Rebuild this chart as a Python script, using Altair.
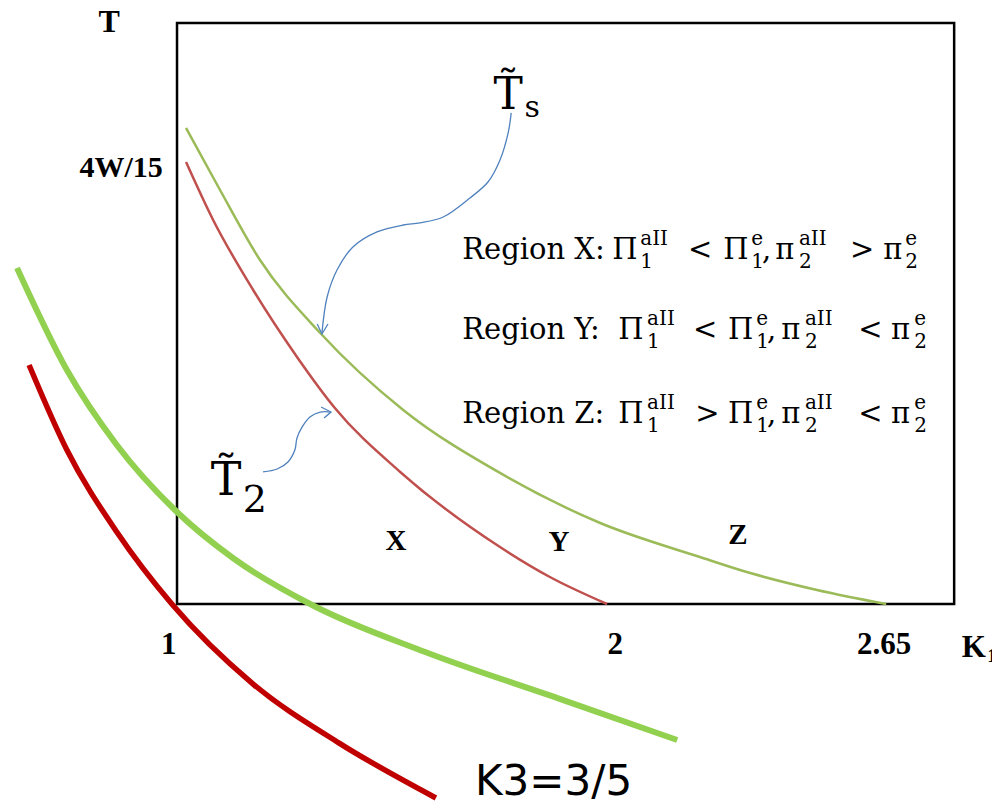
import altair as alt
import pandas as pd

# ---------------- data (K1 on x, T on y; T measured in units of W/15) ----------------
X_DOMAIN = [0.607, 2.895]
Y_DOMAIN = [-1.813, 5.430]

# inner curves
ts_k1 = [1.021, 1.100, 1.193, 1.333, 1.526, 1.751, 1.984, 2.216, 2.333, 2.488, 2.649]
ts_t = [4.337, 3.772, 3.134, 2.469, 1.768, 1.194, 0.738, 0.428, 0.282, 0.128, 0.0]

t2_k1 = [1.021, 1.084, 1.177, 1.279, 1.367, 1.519, 1.751, 1.867, 2.000]
t2_t = [4.027, 3.499, 2.861, 2.251, 1.786, 1.203, 0.519, 0.246, 0.0]

# K3 = 3/5 curves
k3_green_k1 = [0.628, 0.744, 0.860, 1.000, 1.130, 1.314, 1.577, 1.898, 2.163]
k3_green_t = [3.062, 2.132, 1.449, 0.838, 0.419, -0.009, -0.437, -0.875, -1.239]

k3_red_k1 = [0.656, 0.744, 0.860, 0.988, 1.177, 1.377, 1.602]
k3_red_t = [2.178, 1.403, 0.656, 0.0, -0.729, -1.267, -1.767]

# frame
box_k1 = [1.0, 2.807]
box_t = [0.0, 5.294]

# arrows
arrow_s_k1 = [1.777, 1.770, 1.751, 1.723, 1.681, 1.619, 1.565, 1.526, 1.465, 1.409, 1.372, 1.349, 1.337]
arrow_s_t = [4.474, 4.292, 4.046, 3.845, 3.699, 3.526, 3.472, 3.453, 3.390, 3.253, 3.043, 2.797, 2.469]
head_s_k1 = [1.326, 1.337, 1.351]
head_s_t = [2.551, 2.460, 2.551]

arrow_2_k1 = [1.200, 1.233, 1.258, 1.274, 1.279, 1.291, 1.309, 1.333, 1.358]
arrow_2_t = [1.203, 1.230, 1.294, 1.403, 1.513, 1.613, 1.704, 1.749, 1.749]
head_2_k1 = [1.335, 1.358, 1.342]
head_2_t = [1.795, 1.749, 1.695]

# tick labels
x_tick_text = ["1", "2", "2.65"]
x_tick_k1 = [0.981, 2.019, 2.644]
x_tick_t = -0.374
y_tick_text = ["4W/15"]
y_tick_t = [3.973]
y_tick_k1 = 0.967

region_labels = ["X", "Y", "Z"]
region_label_k1 = [1.509, 1.888, 2.304]
region_label_t = [0.574, 0.565, 0.633]

# region description lines: base tokens, superscripts, subscripts
line_base_t = [3.144, 2.415, 1.649]
SUP_OFF = 0.128
SUB_OFF = -0.082
line_base_tokens = [
    [("Region X:", 1.663), ("Π", 2.012), ("<", 2.188), ("Π", 2.270), (",", 2.360), ("π", 2.391), (">", 2.565), ("π", 2.642)],
    [("Region Y:", 1.663), ("Π", 2.026), ("<", 2.200), ("Π", 2.281), (",", 2.372), ("π", 2.405), ("<", 2.584), ("π", 2.660)],
    [("Region Z:", 1.663), ("Π", 2.026), (">", 2.205), ("Π", 2.281), (",", 2.372), ("π", 2.405), ("<", 2.584), ("π", 2.660)],
]
line_script_k1 = [
    [2.077, 2.335, 2.446, 2.693],
    [2.093, 2.347, 2.460, 2.714],
    [2.093, 2.347, 2.460, 2.714],
]
sup_tokens = ["aII", "e", "aII", "e"]
sub_tokens = ["1", "1", "2", "2"]

# ---------------- build tables ----------------
def curve_df(k, t):
    return pd.DataFrame({"K1": k, "T": t, "i": list(range(len(k)))})

X = alt.X("K1:Q", scale=alt.Scale(domain=X_DOMAIN, nice=False, zero=False), axis=None)
Y = alt.Y("T:Q", scale=alt.Scale(domain=Y_DOMAIN, nice=False, zero=False), axis=None)

box = alt.Chart(pd.DataFrame({"K1": [box_k1[0]], "K1b": [box_k1[1]], "T": [box_t[0]], "Tb": [box_t[1]]})).mark_rect(
    fillOpacity=0, stroke="black", strokeWidth=2.5
).encode(x=X, x2="K1b:Q", y=Y, y2="Tb:Q")

def path(k, t, color, width, interp):
    return alt.Chart(curve_df(k, t)).mark_line(
        color=color, strokeWidth=width, interpolate=interp, clip=False
    ).encode(x=X, y=Y, order="i:Q")

green_in = path(ts_k1, ts_t, "#9BBB59", 2.5, "monotone")
red_in = path(t2_k1, t2_t, "#C0504D", 2.5, "monotone")
green_out = path(k3_green_k1, k3_green_t, "#92D050", 6, "monotone")
red_out = path(k3_red_k1, k3_red_t, "#C00000", 5.5, "monotone")

blue = "#4F81BD"
arr1 = path(arrow_s_k1, arrow_s_t, blue, 1.3, "catmull-rom")
arr1h = path(head_s_k1, head_s_t, blue, 1.3, "linear")
arr2 = path(arrow_2_k1, arrow_2_t, blue, 1.3, "catmull-rom")
arr2h = path(head_2_k1, head_2_t, blue, 1.3, "linear")

def text_layer(df, **kw):
    return alt.Chart(df).mark_text(color="black", clip=False, **kw).encode(x=X, y=Y, text="txt:N")

bold_serif = dict(font="Liberation Serif", fontWeight="bold")
tick_x = text_layer(pd.DataFrame({"K1": x_tick_k1, "T": [x_tick_t] * 3, "txt": x_tick_text}),
                    fontSize=31, align="center", baseline="middle", **bold_serif)
tick_y = text_layer(pd.DataFrame({"K1": [y_tick_k1], "T": y_tick_t, "txt": y_tick_text}),
                    fontSize=30, align="right", baseline="middle", **bold_serif)
axis_t = text_layer(pd.DataFrame({"K1": [0.842], "T": [5.300], "txt": ["T"]}),
                    fontSize=32, align="center", baseline="middle", **bold_serif)
axis_k = text_layer(pd.DataFrame({"K1": [2.853], "T": [-0.401], "txt": ["K"]}),
                    fontSize=31, align="center", baseline="middle", **bold_serif)
axis_k_sub = text_layer(pd.DataFrame({"K1": [2.884], "T": [-0.530], "txt": ["1"]}),
                        fontSize=19, align="left", baseline="alphabetic", **bold_serif)
regions = text_layer(pd.DataFrame({"K1": region_label_k1, "T": region_label_t, "txt": region_labels}),
                     fontSize=29, align="center", baseline="middle", **bold_serif)

rows_base, rows_script = [], []
for li in range(3):
    b = line_base_t[li]
    for tok, k in line_base_tokens[li]:
        rows_base.append({"K1": k, "T": b, "txt": tok})
    for j, k in enumerate(line_script_k1[li]):
        rows_script.append({"K1": k, "T": b + SUP_OFF, "txt": sup_tokens[j]})
        rows_script.append({"K1": k, "T": b + SUB_OFF, "txt": sub_tokens[j]})

region_base = text_layer(pd.DataFrame(rows_base), font="DejaVu Serif", fontSize=29, align="left", baseline="alphabetic")
region_script = text_layer(pd.DataFrame(rows_script), font="DejaVu Serif", fontSize=20, align="left", baseline="alphabetic")

ts_label = text_layer(pd.DataFrame({"K1": [1.770], "T": [4.510], "txt": ["T\u0303"]}),
                      font="DejaVu Serif", fontSize=44, align="center", baseline="alphabetic")
ts_sub = text_layer(pd.DataFrame({"K1": [1.808], "T": [4.437], "txt": ["s"]}),
                    font="DejaVu Serif", fontSize=30, align="left", baseline="alphabetic")
t2_label = text_layer(pd.DataFrame({"K1": [1.114], "T": [0.993], "txt": ["T\u0303"]}),
                      font="DejaVu Serif", fontSize=46, align="center", baseline="alphabetic")
t2_sub = text_layer(pd.DataFrame({"K1": [1.153], "T": [0.838], "txt": ["2"]}),
                    font="DejaVu Serif", fontSize=38, align="left", baseline="alphabetic")

k3_label = text_layer(pd.DataFrame({"K1": [1.693], "T": [-1.740], "txt": ["K3=3/5"]}),
                      font="DejaVu Sans", fontSize=42, align="left", baseline="alphabetic")

chart = alt.layer(
    box, green_in, red_in, green_out, red_out,
    arr1, arr1h, arr2, arr2h,
    tick_x, tick_y, axis_t, axis_k, axis_k_sub, regions,
    region_base, region_script, ts_label, ts_sub, t2_label, t2_sub, k3_label,
).properties(
    width=984, height=795, padding=0, autosize="none", background="white"
).configure_view(stroke=None)

chart.save("out.html", embed_options={"renderer": "svg", "actions": False})
